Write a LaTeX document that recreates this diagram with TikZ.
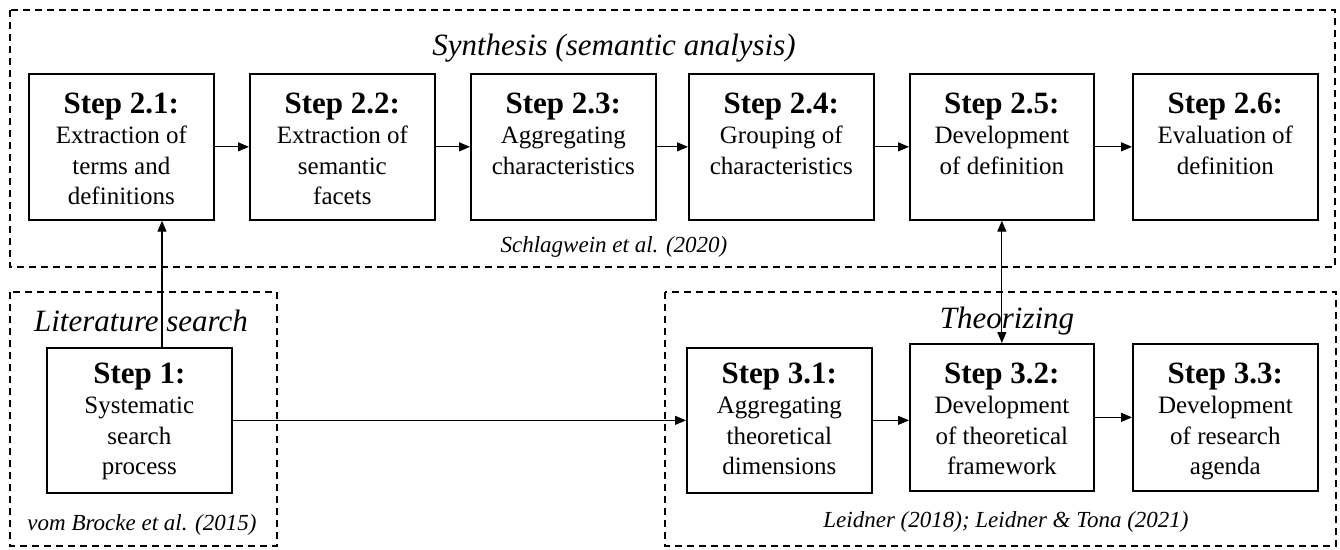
\documentclass[tikz,border=0pt]{standalone}
\usepackage{fontspec}
\setmainfont{Liberation Serif}
\usetikzlibrary{arrows.meta}
\newcommand{\steptext}[3][16pt]{\begin{minipage}[t][140pt][t]{182pt}\centering\vspace*{#1}{\fontsize{31}{31}\selectfont\bfseries #2\par}{\fontsize{25}{30.5}\selectfont #3\par}\end{minipage}}
\tikzset{
  stepbox/.style={draw, line width=1.7pt, inner sep=0pt, anchor=north west, minimum width=185pt, minimum height=146pt},
  groupbox/.style={draw, line width=1.4pt, dash pattern=on 7pt off 5pt},
  grouptitle/.style={anchor=base, inner sep=0pt, font=\fontsize{31}{32}\selectfont\itshape},
  cite/.style={anchor=base, inner sep=0pt, font=\fontsize{23}{24}\selectfont\itshape},
  arr/.style={-{Triangle[length=11pt,width=9pt]}, line width=1.2pt},
  darr/.style={{Triangle[length=11pt,width=9pt]}-{Triangle[length=11pt,width=9pt]}, line width=1.2pt}
}
\begin{document}
\begin{tikzpicture}[x=1pt,y=-1pt]
\useasboundingbox (0,0) rectangle (1340,549);
% group frames
\draw[groupbox] (10,10) rectangle (1335,267);
\draw[groupbox] (10,292) rectangle (277,546);
\draw[groupbox] (665,292) rectangle (1336,546);
% group titles and citations
\node[grouptitle] (tsyn) at (614,55) {Synthesis (semantic analysis)};
\node[cite] (csyn) at (614,252) {Schlagwein et al. (2020)};
\node[grouptitle] (tlit) at (141,331) {Literature search};
\node[cite] (clit) at (142,530) {vom Brocke et al. (2015)};
\node[grouptitle] (tthe) at (1007,328) {Theorizing};
\node[cite] (cthe) at (1006,527) {Leidner (2018); Leidner \& Tona (2021)};
% synthesis steps
\node[stepbox] (s21) at (28,73) {\steptext{Step 2.1:}{Extraction of\\terms and\\definitions}};
\node[stepbox] (s22) at (249,73) {\steptext{Step 2.2:}{Extraction of\\semantic\\facets}};
\node[stepbox] (s23) at (470,73) {\steptext{Step 2.3:}{Aggregating\\characteristics}};
\node[stepbox] (s24) at (688,73) {\steptext{Step 2.4:}{Grouping of\\characteristics}};
\node[stepbox, minimum width=184pt] (s25) at (909,73) {\steptext{Step 2.5:}{Development\\of definition}};
\node[stepbox] (s26) at (1132,73) {\steptext{Step 2.6:}{Evaluation of\\definition}};
% literature search
\node[stepbox, minimum height=145pt] (s1) at (46,347) {\steptext[12.5pt]{Step 1:}{Systematic\\search\\process}};
% theorizing
\node[stepbox, minimum height=145pt] (s31) at (686,347) {\steptext[12.5pt]{Step 3.1:}{Aggregating\\theoretical\\dimensions}};
\node[stepbox, minimum width=184pt, minimum height=147pt] (s32) at (909,343) {\steptext[15.5pt]{Step 3.2:}{Development\\of theoretical\\framework}};
\node[stepbox, minimum height=147pt] (s33) at (1132,343) {\steptext[15.5pt]{Step 3.3:}{Development\\of research\\agenda}};
% connectors
\draw[arr] (s21.east) -- (s22.west);
\draw[arr] (s22.east) -- (s23.west);
\draw[arr] (s23.east) -- (s24.west);
\draw[arr] (s24.east) -- (s25.west);
\draw[arr] (s25.east) -- (s26.west);
\coordinate (vup) at (162,300);
\draw[arr] (s1.north -| vup) -- (s21.south -| vup);
\draw[arr] (s1.east) -- (s31.west);
\draw[arr] (s31.east) -- (s31.east -| s32.west);
\draw[arr] (s32.east) -- (s33.west);
\draw[darr] (s25.south) -- (s32.north);
\end{tikzpicture}
\end{document}
